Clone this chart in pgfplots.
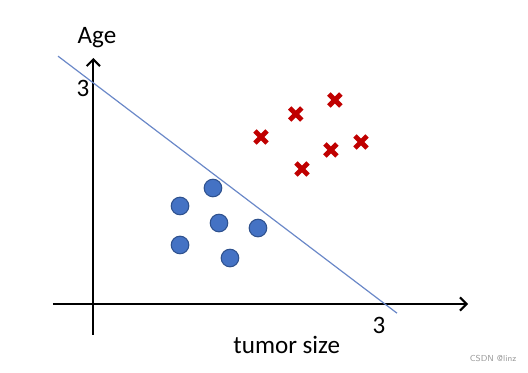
\documentclass[border=0pt]{standalone}
\usepackage{fontspec}
\setmainfont{Carlito}
\usepackage{pgfplots}
\pgfplotsset{compat=1.18}
\usetikzlibrary{arrows.meta}
\definecolor{dotblue}{HTML}{4472C4}
\definecolor{dotedge}{HTML}{2F528F}
\definecolor{crossred}{HTML}{C00000}
\definecolor{linecol}{HTML}{6A88C8}
\begin{document}
\begin{tikzpicture}
\begin{axis}[
  scale only axis, width=396pt, height=279.75pt,
  xmin=-0.960, xmax=4.472, ymin=-0.936, ymax=4.125,
  axis lines=none, clip=false,
  ]
  \path (rel axis cs:0,0) rectangle (rel axis cs:1,1);
  % axes
  \draw[line width=1.5pt, -{Straight Barb[length=5pt,width=10pt,line width=1.5pt]}] (axis cs:-0.415,0) -- (axis cs:3.855,0);
  \draw[line width=1.5pt, -{Straight Barb[length=5pt,width=10pt,line width=1.5pt]}] (axis cs:0,-0.42) -- (axis cs:0,3.338);
  % decision boundary
  \addplot[linecol, line width=0.9pt, no marks] coordinates {(-0.363,3.363) (3.124,-0.124)};
  % blue class
  \addplot[only marks, mark=*, mark size=6.6pt, mark options={fill=dotblue, draw=dotedge, line width=0.8pt}] coordinates {
    (1.231,1.574) (0.892,1.330) (1.293,1.099) (1.694,1.031) (0.892,0.801) (1.406,0.624)};
  % red class
  \addplot[only marks, mark=x, mark size=6.4pt, mark options={draw=crossred, line width=3.6pt}] coordinates {
    (1.725,2.266) (2.083,2.578) (2.485,2.768) (2.444,2.090) (2.754,2.198) (2.147,1.832)};
  % labels
  \node[font=\fontsize{18.8}{22}\selectfont] at (axis cs:0.038,3.609) {Age};
  \node[font=\fontsize{18.8}{22}\selectfont] at (axis cs:-0.106,2.93) {3};
  \node[font=\fontsize{18.8}{22}\selectfont] at (axis cs:2.94,-0.285) {3};
  \node[font=\fontsize{18.8}{22}\selectfont] at (axis cs:1.99,-0.556) {tumor size};
  \node[font=\fontsize{6.5}{8}\sffamily, text=black!40] at (axis cs:4.112,-0.733) {CSDN @linz};
\end{axis}
\end{tikzpicture}
\end{document}
